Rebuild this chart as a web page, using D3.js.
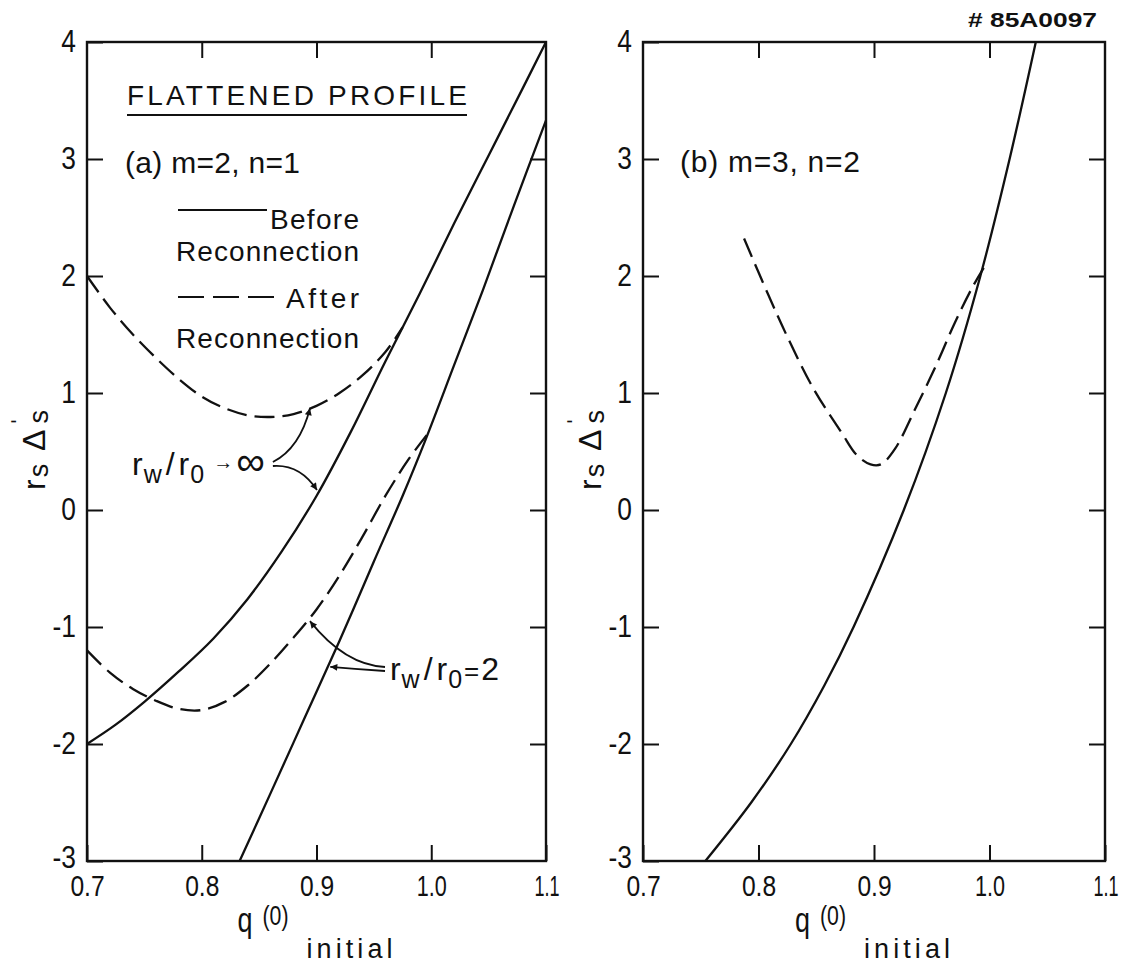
<!DOCTYPE html>
<html>
<head>
<meta charset="utf-8">
<script src="https://cdn.jsdelivr.net/npm/d3@7"></script>
<style>
  body { margin: 0; background: #fff; }
  text { font-family: "Liberation Sans", Arial, sans-serif; fill: #111; }
</style>
</head>
<body>
<svg id="chart" width="1125" height="970"></svg>
<script>
  // axis ticks
  const xTickVals = [0.7, 0.8, 0.9, 1.0, 1.1]
  const xTickText = ["0.7", "0.8", "0.9", "1.0", "1.1"]
  const yTickVals = [4, 3, 2, 1, 0, -1, -2, -3]
  const yTickText = ["4", "3", "2", "1", "0", "-1", "-2", "-3"]

  // (a) m=2, n=1 : before reconnection (solid)
  const aBeforeInfQ = [0.70, 0.725, 0.75, 0.78, 0.81, 0.84, 0.87, 0.90, 0.93, 0.96, 0.99, 1.02, 1.05, 1.08, 1.10]
  const aBeforeInfV = [-2.0, -1.835, -1.64, -1.38, -1.10, -0.76, -0.35, 0.12, 0.67, 1.27, 1.85, 2.45, 3.03, 3.61, 4.0]
  const aBefore2Q = [0.833, 0.86, 0.89, 0.92, 0.95, 0.975, 0.995, 1.02, 1.045, 1.072, 1.10]
  const aBefore2V = [-3.0, -2.42, -1.77, -1.12, -0.44, 0.12, 0.60, 1.24, 1.88, 2.60, 3.33]
  // (a) after reconnection (dashed)
  const aAfterInfQ = [0.70, 0.72, 0.74, 0.76, 0.78, 0.80, 0.82, 0.84, 0.86, 0.88, 0.90, 0.92, 0.94, 0.96, 0.975]
  const aAfterInfV = [2.0, 1.73, 1.50, 1.30, 1.12, 0.97, 0.87, 0.81, 0.795, 0.82, 0.89, 1.00, 1.15, 1.35, 1.56]
  const aAfter2Q = [0.70, 0.72, 0.74, 0.76, 0.78, 0.80, 0.82, 0.84, 0.86, 0.88, 0.90, 0.92, 0.94, 0.96, 0.98, 0.996]
  const aAfter2V = [-1.20, -1.39, -1.53, -1.63, -1.70, -1.71, -1.64, -1.50, -1.31, -1.09, -0.85, -0.56, -0.23, 0.12, 0.43, 0.64]

  // (b) m=3, n=2
  const bBeforeQ = [0.754, 0.7937, 0.828, 0.857, 0.8823, 0.9258, 0.9622, 0.9921, 1.0174, 1.0401]
  const bBeforeV = [-3.0, -2.5, -2.0, -1.5, -1.0, 0.0, 1.0, 2.0, 3.0, 4.0]
  const bAfterQ = [0.7875, 0.808, 0.825, 0.848, 0.872, 0.885, 0.897, 0.906, 0.918, 0.935, 0.953, 0.970, 0.985, 0.995]
  const bAfterV = [2.32, 1.85, 1.48, 1.03, 0.66, 0.47, 0.39, 0.39, 0.52, 0.85, 1.22, 1.60, 1.90, 2.07]

  // arrows in panel (a): [from, control, to] in data units
  const arrowsA = [
    [[0.862, 0.41], [0.8856, 0.53], [0.8943, 0.87]],
    [[0.862, 0.376], [0.8856, 0.393], [0.9004, 0.17]],
    [[0.9597, -1.342], [0.9248, -1.325], [0.8943, -0.95]],
    [[0.9597, -1.376], [0.936, -1.36], [0.912, -1.34]]
  ]

  const zip = (q, v) => q.map((d, i) => [d, v[i]])

  const svg = d3.select("#chart")
  const plotTop = 42, plotBottom = 861

  svg.append("defs").append("marker")
    .attr("id", "head")
    .attr("viewBox", "0 0 10 10")
    .attr("refX", 10).attr("refY", 5)
    .attr("markerWidth", 16).attr("markerHeight", 7)
    .attr("markerUnits", "userSpaceOnUse")
    .attr("orient", "auto")
    .append("path").attr("d", "M0,0L10,5L0,10z").attr("fill", "#111")

  // squeeze a text horizontally, the lettering in the figure is narrow
  const narrow = (sel, k) => sel.each(function () {
    const w = this.getComputedTextLength()
    const kk = typeof k === "function" ? k(this.textContent) : k
    d3.select(this).attr("textLength", w * kk).attr("lengthAdjust", "spacingAndGlyphs")
  })

  const drawPanel = (left, right, series) => {
    const x = d3.scaleLinear().domain([0.7, 1.1]).range([left, right])
    const y = d3.scaleLinear().domain([-3, 4]).range([plotBottom, plotTop])
    const g = svg.append("g")

    const fmtX = d => xTickText[xTickVals.indexOf(d)]
    const fmtY = d => yTickText[yTickVals.indexOf(d)]

    g.append("g").attr("class", "xb").attr("transform", "translate(0," + plotBottom + ")")
      .call(d3.axisBottom(x).tickValues(xTickVals).tickSizeInner(-16).tickSizeOuter(0).tickPadding(14).tickFormat(fmtX))
    g.append("g").attr("transform", "translate(0," + plotTop + ")")
      .call(d3.axisTop(x).tickValues(xTickVals.slice(1, 4)).tickSizeInner(-16).tickSizeOuter(0).tickFormat(""))
    g.append("g").attr("class", "yl").attr("transform", "translate(" + left + ",0)")
      .call(d3.axisLeft(y).tickValues(yTickVals).tickSizeInner(-16).tickSizeOuter(0).tickPadding(11).tickFormat(fmtY))
    g.append("g").attr("transform", "translate(" + right + ",0)")
      .call(d3.axisRight(y).tickValues(yTickVals.slice(1, 7)).tickSizeInner(-16).tickSizeOuter(0).tickFormat(""))
    g.selectAll(".domain").remove()
    g.selectAll(".tick line").attr("stroke", "#111").attr("stroke-width", 2)
    g.selectAll(".tick text")
      .style("font-family", "'Liberation Sans', Arial, sans-serif")
      .style("font-size", "31px").attr("fill", "#111")
    g.selectAll(".xb .tick text").style("font-size", "30px")
    narrow(g.selectAll(".xb .tick text"), s => s === "1.1" ? 0.6 : s === "1.0" ? 0.72 : 0.82)
    g.selectAll(".xb .tick text").filter(d => d === 1.1).attr("text-anchor", "end").attr("x", 13)
    narrow(g.selectAll(".yl .tick text"), 0.85)
    g.selectAll(".yl .tick text").filter(d => d === -3).attr("dy", "0.2em")

    g.append("rect")
      .attr("x", left).attr("y", plotTop)
      .attr("width", right - left).attr("height", plotBottom - plotTop)
      .attr("fill", "none").attr("stroke", "#111").attr("stroke-width", 2.4)

    const line = d3.line().x(d => x(d[0])).y(d => y(d[1])).curve(d3.curveCatmullRom.alpha(0.5))
    series.forEach(s => {
      g.append("path")
        .datum(zip(s.q, s.v))
        .attr("fill", "none")
        .attr("stroke", "#111")
        .attr("stroke-width", 2.3)
        .attr("stroke-dasharray", s.dashed ? "20,8" : null)
        .attr("d", line)
    })

    // y axis title
    const yl = g.append("text")
      .attr("transform", "translate(" + (left - 42) + "," + 449 + ") rotate(-90)")
      .attr("text-anchor", "middle")
      .style("font-size", "32px")
      .style("letter-spacing", "2px")
    yl.append("tspan").text("r")
    yl.append("tspan").text("s").style("font-size", "27px").attr("dy", 3)
    yl.append("tspan").text(" Δ").attr("dy", -3)
    yl.append("tspan").text("ˈ").style("font-size", "30px").attr("dy", -12).attr("dx", 1)
    yl.append("tspan").text("s").style("font-size", "27px").attr("dy", 15).attr("dx", -9)

    // x axis title
    const cx = x(0.9)
    g.append("text").attr("x", cx - 79).attr("y", 932).style("font-size", "35px")
      .attr("textLength", 15).attr("lengthAdjust", "spacingAndGlyphs").text("q")
    g.append("text").attr("x", cx - 54).attr("y", 925).style("font-size", "28px")
      .attr("textLength", 26).attr("lengthAdjust", "spacingAndGlyphs").text("(0)")
    g.append("text").attr("x", cx - 10).attr("y", 958).style("font-size", "27px")
      .attr("textLength", 86).attr("lengthAdjust", "spacing").text("initial")

    return { x, y, g }
  }

  const pa = drawPanel(87, 546, [
    { q: aBeforeInfQ, v: aBeforeInfV, dashed: false },
    { q: aBefore2Q, v: aBefore2V, dashed: false },
    { q: aAfterInfQ, v: aAfterInfV, dashed: true },
    { q: aAfter2Q, v: aAfter2V, dashed: true }
  ])
  const pb = drawPanel(643, 1105, [
    { q: bBeforeQ, v: bBeforeV, dashed: false },
    { q: bAfterQ, v: bAfterV, dashed: true }
  ])

  // panel (a) texts
  const ta = pa.g
  const label = (x, y, size, len, str) => ta.append("text").attr("x", x).attr("y", y)
    .style("font-size", size + "px")
    .attr("textLength", len).attr("lengthAdjust", "spacing").text(str)
  label(127, 105, 28, 340, "FLATTENED PROFILE")
  ta.append("line").attr("x1", 127).attr("x2", 467).attr("y1", 115).attr("y2", 115)
    .attr("stroke", "#111").attr("stroke-width", 2)
  label(125, 173, 30, 175, "(a) m=2, n=1")
  ta.append("line").attr("x1", 178).attr("x2", 267).attr("y1", 210).attr("y2", 210)
    .attr("stroke", "#111").attr("stroke-width", 2)
  label(270, 228.5, 28, 89, "Before")
  label(176, 260.5, 28, 183, "Reconnection")
  ta.append("line").attr("x1", 178).attr("x2", 274).attr("y1", 297).attr("y2", 297)
    .attr("stroke", "#111").attr("stroke-width", 2).attr("stroke-dasharray", "26,9")
  label(286, 308, 28, 73, "After")
  label(176, 348, 28, 183, "Reconnection")

  // arrows
  arrowsA.forEach(a => {
    const p = d3.path()
    p.moveTo(pa.x(a[0][0]), pa.y(a[0][1]))
    p.quadraticCurveTo(pa.x(a[1][0]), pa.y(a[1][1]), pa.x(a[2][0]), pa.y(a[2][1]))
    ta.append("path").attr("d", p.toString()).attr("fill", "none")
      .attr("stroke", "#111").attr("stroke-width", 1.8).attr("marker-end", "url(#head)")
  })

  // r_w/r_0 labels
  const ratioLabel = (q, v, tail) => {
    const t = ta.append("text").attr("x", pa.x(q)).attr("y", pa.y(v)).style("font-size", "32px")
    t.append("tspan").text("r")
    t.append("tspan").text("w").style("font-size", "25px").attr("dy", 8).attr("dx", 1)
    t.append("tspan").text("/").attr("dy", -8).attr("dx", 4)
    t.append("tspan").text("r").attr("dx", 4)
    t.append("tspan").text("0").style("font-size", "25px").attr("dy", 8).attr("dx", 1)
    tail(t)
  }
  ratioLabel(0.7392, 0.30, t => {
    t.append("tspan").text("→").style("font-size", "20px").attr("dy", -14).attr("dx", 9)
    t.append("tspan").text("∞").style("font-size", "40px").attr("dy", 6).attr("dx", 3)
  })
  ratioLabel(0.964, -1.453, t => {
    t.append("tspan").text("=").style("font-size", "26px").attr("dy", -8).attr("dx", 2)
    t.append("tspan").text("2").attr("dx", 2)
  })

  // panel (b) texts
  pb.g.append("text").attr("x", 680).attr("y", 172).style("font-size", "30px")
    .attr("textLength", 180).attr("lengthAdjust", "spacing").text("(b) m=3, n=2")

  svg.append("text").attr("x", 968).attr("y", 27)
    .style("font-size", "20px").style("font-weight", "bold")
    .attr("textLength", 129).attr("lengthAdjust", "spacingAndGlyphs")
    .text("# 85A0097")
</script>
</body>
</html>
